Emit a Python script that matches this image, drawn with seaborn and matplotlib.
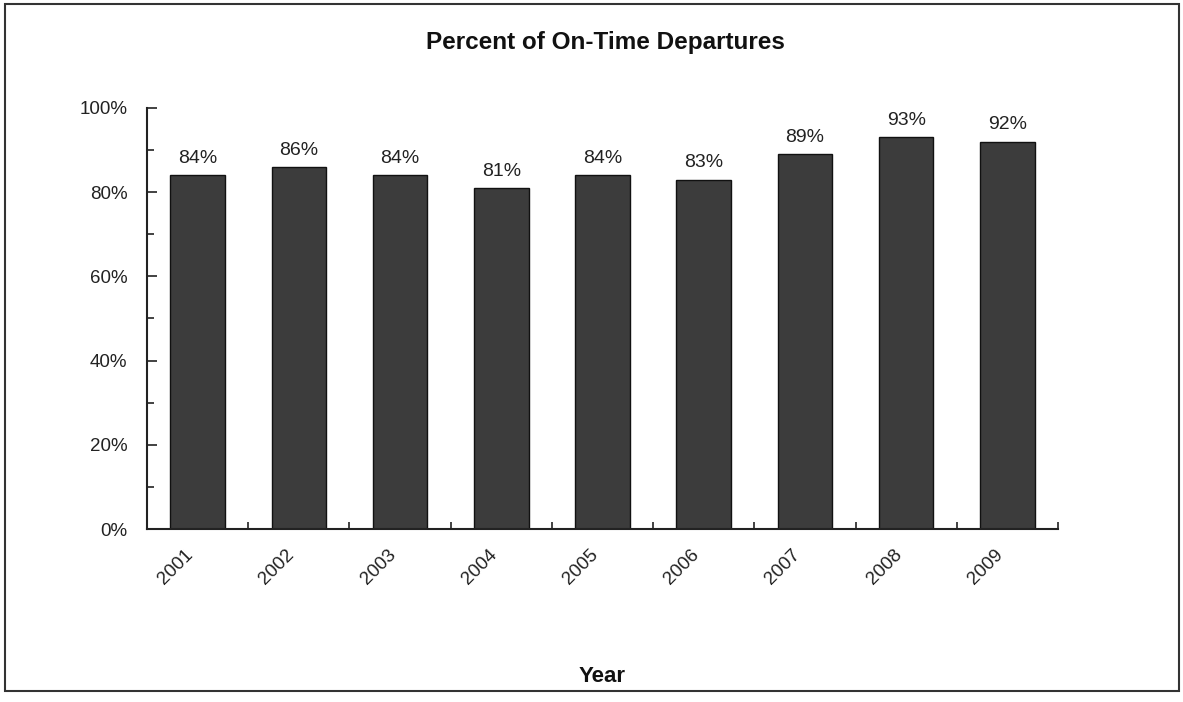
import matplotlib
matplotlib.use("Agg")
import matplotlib.pyplot as plt
from matplotlib.ticker import FixedLocator, MultipleLocator, PercentFormatter
from matplotlib.patches import Rectangle
from matplotlib.transforms import ScaledTranslation
import seaborn as sns
import pandas as pd

years = ["2001", "2002", "2003", "2004", "2005", "2006", "2007", "2008", "2009"]
on_time_pct = [84, 86, 84, 81, 84, 83, 89, 93, 92]

sns.set_theme(style="white")
plt.rcParams["font.family"] = ["Liberation Sans", "DejaVu Sans"]

df = pd.DataFrame({"Year": years, "Percent": on_time_pct})

fig = plt.figure(figsize=(11.83, 7.02), dpi=100)
ax = fig.add_axes([0.1243, 0.2464, 0.7700, 0.5998])

sns.barplot(data=df, x="Year", y="Percent", color="#3c3c3c", width=0.54,
            edgecolor="#111111", linewidth=1.0, saturation=1, ax=ax)

ax.set_ylim(0, 100)
ax.set_xlim(-0.5, len(years) - 0.5)
ax.yaxis.set_major_locator(MultipleLocator(20))
ax.yaxis.set_minor_locator(MultipleLocator(10))
ax.yaxis.set_major_formatter(PercentFormatter(decimals=0))
ax.xaxis.set_minor_locator(FixedLocator([i - 0.5 for i in range(len(years) + 1)]))

ax.tick_params(axis="y", which="major", direction="in", length=7, width=1.2,
               color="#222222", labelsize=13.5, labelcolor="#222222", left=True, pad=14)
ax.tick_params(axis="y", which="minor", direction="in", length=5, width=1.2,
               color="#222222", left=True)
ax.tick_params(axis="x", which="major", length=0, labelsize=13.5,
               labelcolor="#222222", pad=10)
ax.tick_params(axis="x", which="minor", direction="in", length=5, width=1.2,
               color="#222222", bottom=True)

# shift rotated year labels so they sit under the left half of each bar
shift = ScaledTranslation(-0.13, -0.03, fig.dpi_scale_trans)
for lbl in ax.get_xticklabels():
    lbl.set_rotation(45)
    lbl.set_ha("right")
    lbl.set_rotation_mode("anchor")
    lbl.set_transform(lbl.get_transform() + shift)

for side in ("top", "right"):
    ax.spines[side].set_visible(False)
for side in ("left", "bottom"):
    ax.spines[side].set_color("#222222")
    ax.spines[side].set_linewidth(1.5)

for i, v in enumerate(on_time_pct):
    ax.annotate(f"{v}%", (i, v), xytext=(0, 6), textcoords="offset points",
                ha="center", va="bottom", fontsize=14, color="#222222")

ax.set_ylabel("")
ax.set_xlabel("Year", fontsize=16, fontweight="bold", color="#111111")
ax.xaxis.set_label_coords(0.5, -0.325)

fig.text(0.512, 0.94, "Percent of On-Time Departures", ha="center", va="center",
         fontsize=17.5, fontweight="bold", color="#111111")

fig.patches.append(Rectangle((0.004, 0.015), 0.993, 0.98, transform=fig.transFigure,
                             fill=False, edgecolor="#333333", linewidth=1.5))

fig.savefig("out.png", dpi=100)
